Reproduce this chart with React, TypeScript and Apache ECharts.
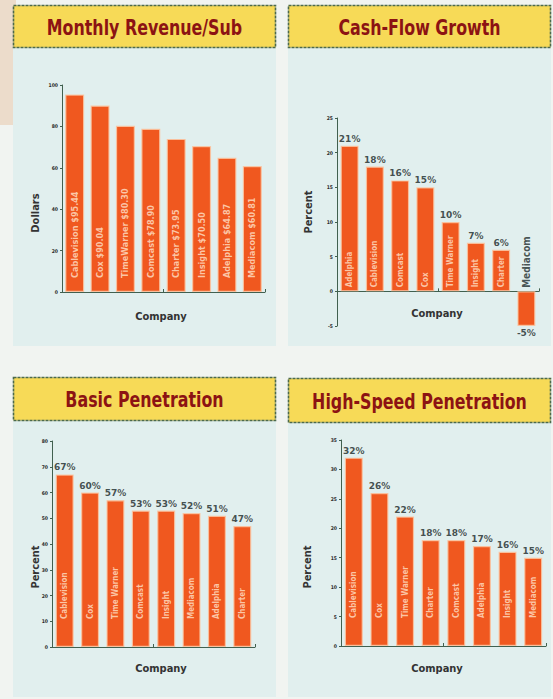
import React, { useEffect, useRef } from "react";
import * as echarts from "echarts";

const revenueCompanies = ["Cablevision", "Cox", "TimeWarner", "Comcast", "Charter", "Insight", "Adelphia", "Mediacom"];
const revenueValues = [95.44, 90.04, 80.3, 78.9, 73.95, 70.5, 64.87, 60.81];

const cashFlowCompanies = ["Adelphia", "Cablevision", "Comcast", "Cox", "Time Warner", "Insight", "Charter", "Mediacom"];
const cashFlowValues = [21, 18, 16, 15, 10, 7, 6, -5];

const basicCompanies = ["Cablevision", "Cox", "Time Warner", "Comcast", "Insight", "Mediacom", "Adelphia", "Charter"];
const basicValues = [67, 60, 57, 53, 53, 52, 51, 47];

const hsCompanies = ["Cablevision", "Cox", "Time Warner", "Charter", "Comcast", "Adelphia", "Insight", "Mediacom"];
const hsValues = [32, 26, 22, 18, 18, 17, 16, 15];

const titles = ["Monthly Revenue/Sub", "Cash-Flow Growth", "Basic Penetration", "High-Speed Penetration"];
const yNames = ["Dollars", "Percent", "Percent", "Percent"];
const xName = "Company";

const yRanges = [
  { min: 0, max: 100, interval: 20 },
  { min: -5, max: 25, interval: 5 },
  { min: 0, max: 80, interval: 10 },
  { min: 0, max: 35, interval: 5 },
];

const BAR = "#f0581f";
const COND = "'DejaVu Sans Condensed', 'DejaVu Sans', sans-serif";
const AXIS = "#41604f";

export default function App() {
  const ref = useRef<HTMLDivElement>(null);
  useEffect(() => {
    if (!ref.current) return;
    const chart = echarts.init(ref.current, null, { renderer: "svg" });

    const grids = [
      { left: 62, top: 85, width: 203, height: 207 },
      { left: 337, top: 118, width: 202, height: 208 },
      { left: 52, top: 441, width: 203, height: 206 },
      { left: 341, top: 440, width: 205, height: 206 },
    ];
    const cats = [revenueCompanies, cashFlowCompanies, basicCompanies, hsCompanies];
    const vals = [revenueValues, cashFlowValues, basicValues, hsValues];
    const barWidths = [19, 18, 18, 18];
    const innerDist = [14, 4, 28, 28];

    const xAxes = cats.map((c, i) => ({
      type: "category",
      gridIndex: i,
      data: c,
      axisLine: { show: true, onZero: true, lineStyle: { color: AXIS, width: 1 } },
      axisTick: { show: true, inside: true, length: 3, lineStyle: { color: AXIS } },
      axisLabel: { show: false },
      splitLine: { show: false },
    }));
    const yAxes = yRanges.map((r, i) => ({
      type: "value",
      gridIndex: i,
      min: r.min,
      max: r.max,
      interval: r.interval,
      axisLine: { show: true, lineStyle: { color: AXIS, width: 1 } },
      axisTick: { show: true, length: 2, lineStyle: { color: AXIS } },
      axisLabel: { show: true, fontSize: 5, fontWeight: "bold", color: "#2a2a2a", margin: 4, fontFamily: COND },
      splitLine: { show: false },
    }));

    const series: any[] = [];
    vals.forEach((v, i) => {
      series.push({
        type: "bar",
        xAxisIndex: i,
        yAxisIndex: i,
        barWidth: barWidths[i],
        data: v.map((val) => {
          const item: any = { value: val };
          if (val < 0) item.label = { show: false };
          return item;
        }),
        itemStyle: { color: BAR, borderColor: "rgba(252,196,160,0.85)", borderWidth: 1.2 },
        label: {
          show: true,
          position: "insideBottom",
          distance: innerDist[i],
          rotate: 90,
          align: "left",
          verticalAlign: "middle",
          fontFamily: COND,
          fontWeight: "bold",
          fontSize: i === 0 ? 9 : 8,
          color: "rgba(253,214,186,0.88)",
          formatter: (p: any) => (i === 0 ? `${p.name} $${Number(p.value).toFixed(2)}` : p.name),
        },
      });
      if (i > 0) {
        series.push({
          type: "scatter",
          xAxisIndex: i,
          yAxisIndex: i,
          symbolSize: 1,
          itemStyle: { color: "rgba(0,0,0,0)" },
          z: 5,
          data: v.map((val) => ({
            value: val,
            label: { position: val < 0 ? "bottom" : "top" },
          })),
          label: {
            show: true,
            position: "top",
            distance: 2,
            fontFamily: "'DejaVu Sans', sans-serif",
            fontWeight: "bold",
            fontSize: 9,
            color: "#182626",
            formatter: (p: any) => `${p.value}%`,
          },
        });
      }
    });
    // Rotated name above zero for the negative bar
    series.push({
      type: "scatter",
      xAxisIndex: 1,
      yAxisIndex: 1,
      symbolSize: 1,
      itemStyle: { color: "rgba(0,0,0,0)" },
      z: 5,
      data: cashFlowValues.map((val, k) => (val < 0 ? [cashFlowCompanies[k], 0] : null)).filter(Boolean),
      label: {
        show: true,
        position: "top",
        distance: 3,
        rotate: 90,
        align: "left",
        verticalAlign: "middle",
        fontFamily: COND,
        fontWeight: "bold",
        fontSize: 10,
        color: "#1d2a2a",
        formatter: (p: any) => p.data[0],
      },
    });

    const panels = [
      { x: 13, y: 48, w: 263, h: 298 },
      { x: 288, y: 48, w: 263, h: 298 },
      { x: 13, y: 421, w: 263, h: 276 },
      { x: 288, y: 423, w: 263, h: 274 },
    ];
    const titleBoxes = [
      { x: 13, y: 5, w: 263, h: 43 },
      { x: 288, y: 5, w: 263, h: 43 },
      { x: 13, y: 377, w: 263, h: 44 },
      { x: 288, y: 378, w: 263, h: 45 },
    ];
    const yNamePos = [
      { x: 35, y: 213 },
      { x: 308, y: 212 },
      { x: 35, y: 567 },
      { x: 307, y: 567 },
    ];
    const xNamePos = [
      { x: 161, y: 316 },
      { x: 437, y: 313 },
      { x: 161, y: 668 },
      { x: 437, y: 668 },
    ];

    const graphic: any[] = [];
    graphic.push({ type: "rect", z: -100, shape: { x: 0, y: 0, width: 553, height: 699 }, style: { fill: "#f1f4f1" } });
    graphic.push({
      type: "rect",
      z: -99,
      shape: { x: 0, y: 0, width: 16, height: 125 },
      style: { fill: "#ecdccb" },
    });
    panels.forEach((p) =>
      graphic.push({ type: "rect", z: -98, shape: { x: p.x, y: p.y, width: p.w, height: p.h }, style: { fill: "#e1efee" } })
    );
    titleBoxes.forEach((b, i) => {
      graphic.push({
        type: "rect",
        z: -97,
        shape: { x: b.x + 0.5, y: b.y + 0.5, width: b.w - 1, height: b.h - 1 },
        style: { fill: "#f7da57", stroke: "#4c6a4c", lineWidth: 1.6, lineDash: [3, 1] },
      });
      graphic.push({
        type: "text",
        z: 50,
        x: b.x + b.w / 2,
        y: b.y + b.h / 2 + 1,
        scaleX: 0.84,
        style: {
          text: titles[i],
          fill: "#8c1313",
          font: `bold 21px ${COND}`,
          align: "center",
          verticalAlign: "middle",
        },
      });
    });
    yNamePos.forEach((p, i) =>
      graphic.push({
        type: "text",
        z: 50,
        x: p.x,
        y: p.y,
        rotation: Math.PI / 2,
        style: { text: yNames[i], fill: "#333", font: `bold 11px ${COND}`, align: "center", verticalAlign: "middle" },
      })
    );
    xNamePos.forEach((p) =>
      graphic.push({
        type: "text",
        z: 50,
        x: p.x,
        y: p.y,
        style: { text: xName, fill: "#333", font: `bold 11px ${COND}`, align: "center", verticalAlign: "middle" },
      })
    );

    chart.setOption({
      animation: false,
      grid: grids,
      xAxis: xAxes,
      yAxis: yAxes,
      series,
      graphic,
    });
    return () => chart.dispose();
  }, []);
  return <div ref={ref} style={{ position: "absolute", left: 0, top: 0, width: 553, height: 699 }} />;
}
